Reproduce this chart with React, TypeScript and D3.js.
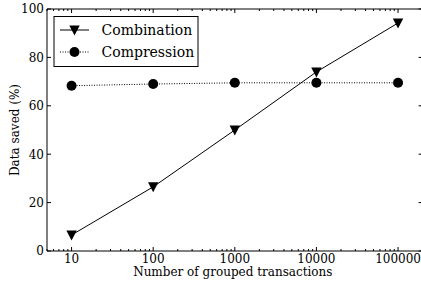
import React, { useEffect, useRef } from "react";
import * as d3 from "d3";

const groups = [10, 100, 1000, 10000, 100000];
const combination = [6.6, 26.5, 50, 74, 94.2];
const compression = [68.3, 69, 69.5, 69.5, 69.5];
const xTickLabels = ["10", "100", "1000", "10000", "100000"];
const yTicks = [0, 20, 40, 60, 80, 100];
const seriesNames = ["Combination", "Compression"];

const W = 421;
const H = 285;
const left = 47;
const right = 422.6;
const top = 9;
const bottom = 251;
const FONT = "'DejaVu Serif'";

export default function App() {
  const ref = useRef<SVGSVGElement | null>(null);

  useEffect(() => {
    const svg = d3.select(ref.current);
    svg.selectAll("*").remove();
    const x = d3.scaleLog().domain([5, 200000]).range([left, right]);
    const y = d3.scaleLinear().domain([0, 100]).range([bottom, top]);
    const line = d3
      .line<number>()
      .x((_, i) => x(groups[i]))
      .y((d) => y(d));

    svg.append("rect").attr("width", W).attr("height", H).attr("fill", "#fff");

    const frame = svg.append("g").attr("stroke", "#000").attr("stroke-width", 1).attr("fill", "none");
    frame.append("line").attr("x1", left).attr("x2", right).attr("y1", top).attr("y2", top);
    frame.append("line").attr("x1", left).attr("x2", right).attr("y1", bottom).attr("y2", bottom);
    frame.append("line").attr("x1", left).attr("x2", left).attr("y1", top).attr("y2", bottom);
    frame.append("line").attr("x1", right).attr("x2", right).attr("y1", top).attr("y2", bottom);

    const minorTicks: number[] = [];
    for (let e = 0; e <= 5; e++) {
      for (let m = 2; m <= 9; m++) {
        const v = m * Math.pow(10, e);
        if (v >= 5 && v <= 200000) minorTicks.push(v);
      }
    }
    groups.forEach((g) => {
      frame.append("line").attr("x1", x(g)).attr("x2", x(g)).attr("y1", bottom).attr("y2", bottom - 4);
      frame.append("line").attr("x1", x(g)).attr("x2", x(g)).attr("y1", top).attr("y2", top + 4);
    });
    minorTicks.forEach((g) => {
      frame.append("line").attr("x1", x(g)).attr("x2", x(g)).attr("y1", bottom).attr("y2", bottom - 2);
      frame.append("line").attr("x1", x(g)).attr("x2", x(g)).attr("y1", top).attr("y2", top + 2);
    });
    yTicks.forEach((t) => {
      frame.append("line").attr("x1", left).attr("x2", left + 4).attr("y1", y(t)).attr("y2", y(t));
      frame.append("line").attr("x1", right).attr("x2", right - 4).attr("y1", y(t)).attr("y2", y(t));
    });

    const txt = (xx: number, yy: number, s: string, size: number, anchor = "start") =>
      svg
        .append("text")
        .attr("x", xx)
        .attr("y", yy)
        .attr("text-anchor", anchor)
        .attr("font-family", FONT)
        .attr("font-size", size)
        .style("font-family", FONT)
        .attr("fill", "#000")
        .text(s);

    groups.forEach((g, i) => txt(x(g), 263, xTickLabels[i], 12, "middle"));
    yTicks.forEach((t) => txt(44, y(t) + 4.3, String(t), 12, "end"));
    txt((left + right) / 2 - 2, 276, "Number of grouped transactions", 12, "middle");
    txt(0, 0, "Data saved (%)", 12, "middle").attr(
      "transform",
      `translate(19,${(top + bottom) / 2}) rotate(-90)`
    );

    const tri = (cx: number, cy: number) =>
      `M${cx - 5.2},${cy - 4.5}L${cx + 5.2},${cy - 4.5}L${cx},${cy + 5.5}Z`;

    svg.append("path").attr("d", line(combination) || "").attr("fill", "none").attr("stroke", "#000");
    svg
      .append("path")
      .attr("d", line(compression) || "")
      .attr("fill", "none")
      .attr("stroke", "#000")
      .attr("stroke-dasharray", "1,1.5");
    combination.forEach((v, i) => svg.append("path").attr("d", tri(x(groups[i]), y(v))).attr("fill", "#000"));
    compression.forEach((v, i) =>
      svg.append("circle").attr("cx", x(groups[i])).attr("cy", y(v)).attr("r", 5).attr("fill", "#000")
    );

    svg
      .append("rect")
      .attr("x", 54)
      .attr("y", 16.5)
      .attr("width", 144)
      .attr("height", 50)
      .attr("fill", "#fff")
      .attr("stroke", "#000");
    svg.append("line").attr("x1", 60).attr("x2", 89).attr("y1", 30).attr("y2", 30).attr("stroke", "#000");
    svg.append("path").attr("d", tri(74.5, 30)).attr("fill", "#000");
    svg
      .append("line")
      .attr("x1", 60)
      .attr("x2", 89)
      .attr("y1", 52)
      .attr("y2", 52)
      .attr("stroke", "#000")
      .attr("stroke-dasharray", "1,1.5");
    svg.append("circle").attr("cx", 74.5).attr("cy", 52).attr("r", 5).attr("fill", "#000");
    txt(101.5, 35, seriesNames[0], 14);
    txt(101.5, 57, seriesNames[1], 14);
  }, []);

  return (
    <svg
      ref={ref}
      width={W}
      height={H}
      style={{ position: "absolute", left: 0, top: 0, background: "#fff" }}
    />
  );
}
